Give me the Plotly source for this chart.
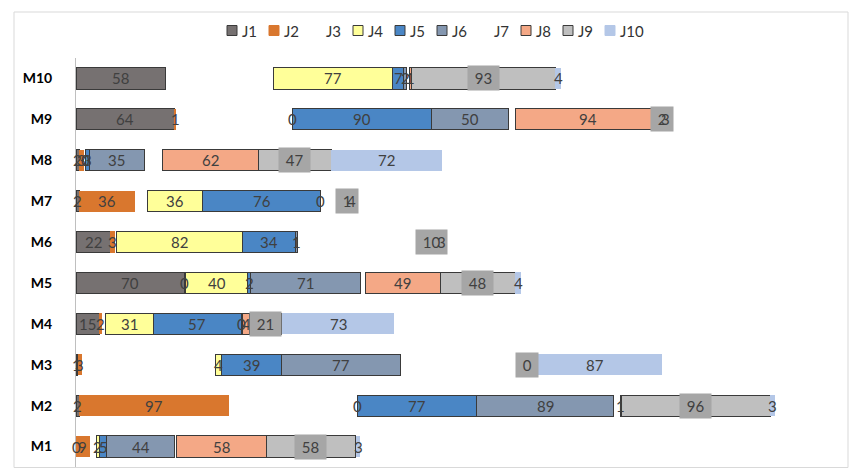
import plotly.graph_objects as go

machines = ["M1", "M2", "M3", "M4", "M5", "M6", "M7", "M8", "M9", "M10"]
jobs = ["J1", "J2", "J3", "J4", "J5", "J6", "J7", "J8", "J9", "J10"]

J1 = [0, 2, 1, 15, 70, 22, 2, 2, 64, 58]
J2 = [9, 97, 3, 2, 0, 3, 36, 3, 1, None]
J3 = [4, 83, 86, 2, 1, 1, 8, 1, 75, 70]
J4 = [2, 0, 4, 31, 40, 82, 36, 0, 0, 77]
J5 = [5, 77, 39, 57, 2, 34, 76, 3, 90, 7]
J6 = [44, 89, 77, 0, 71, 1, 0, 35, 50, 2]
J7 = [1, 4, 82, 1, 3, 82, 17, 12, 4, 2]
J8 = [58, 1, 0, 4, 49, 0, 0, 62, 94, 1]
J9 = [58, 96, 0, 21, 48, 10, 1, 47, 2, 93]
J10 = [3, 3, 87, 73, 4, 3, 4, 72, 3, 4]

series = [J1, J2, J3, J4, J5, J6, J7, J8, J9, J10]

fills = ["#767171", "#D9772E", "rgba(0,0,0,0)", "#FFFF99", "#4A86C5",
         "#8497B0", "rgba(0,0,0,0)", "#F4A886", "#BFBFBF", "#B4C7E7"]
outlined = [True, False, False, True, True, True, False, True, True, False]
labelled = [True, True, False, True, True, True, False, True, True, True]

FONT = "Lato"
LABEL_COLOR = "#404040"
EDGE = "#3A3A3A"

# figure geometry (the page adds an 8px body margin)
FIG_W, FIG_H = 853, 468
ML, MR, MT, MB = 68, 26, 50, 9
PLOT_W = FIG_W - ML - MR
PLOT_H = FIG_H - MT - MB


def px_x(px):  # page pixel -> paper x
    return (px - 8 - ML) / PLOT_W


def px_y(py):  # page pixel -> paper y
    return (FIG_H - MB - (py - 8)) / PLOT_H


fig = go.Figure()

for name, vals, col, ol in zip(jobs, series, fills, outlined):
    fig.add_trace(go.Bar(
        name=name, y=machines, x=vals, orientation="h",
        marker=dict(color=col,
                    line=dict(color=EDGE if ol else "rgba(0,0,0,0)",
                              width=1 if ol else 0)),
        width=0.52, hoverinfo="skip", showlegend=False,
    ))

# data labels at segment centres
starts = [0.0] * len(machines)
annotations = []
for k, (name, vals) in enumerate(zip(jobs, series)):
    for i, v in enumerate(vals):
        val = 0 if v is None else v
        c = starts[i] + val / 2.0
        if v is not None and labelled[k]:
            if name == "J9":
                annotations.append(dict(
                    x=c, y=machines[i], xref="x", yref="y",
                    text=" %d " % v, showarrow=False,
                    bgcolor="#A6A6A6", borderpad=3,
                    font=dict(family=FONT, size=15, color=LABEL_COLOR)))
            else:
                annotations.append(dict(
                    x=c, y=machines[i], xref="x", yref="y",
                    text=str(v), showarrow=False, borderpad=0,
                    font=dict(family=FONT, size=15, color=LABEL_COLOR)))
        starts[i] += val

# legend (drawn by hand to match the compact spacing)
LEG_LEFT, LEG_PITCH, LEG_YC = 227, 42, 30.5
for k, name in enumerate(jobs):
    left = LEG_LEFT + LEG_PITCH * k
    if fills[k] != "rgba(0,0,0,0)":
        fig.add_shape(type="rect", xref="paper", yref="paper",
                      x0=px_x(left), x1=px_x(left + 10),
                      y0=px_y(LEG_YC + 5), y1=px_y(LEG_YC - 5),
                      fillcolor=fills[k],
                      line=dict(color=EDGE if outlined[k] else fills[k], width=1))
    annotations.append(dict(
        x=px_x(left + 13), y=px_y(LEG_YC), xref="paper", yref="paper",
        xanchor="left", yanchor="middle", text=name, showarrow=False,
        font=dict(family=FONT, size=15, color="#333333")))

# outer chart border
fig.add_shape(type="rect", xref="paper", yref="paper",
              x0=px_x(14), x1=px_x(848), y0=px_y(467.5), y1=px_y(12),
              line=dict(color="#D9D9D9", width=1), fillcolor="rgba(0,0,0,0)",
              layer="above")

fig.update_layout(
    width=FIG_W, height=FIG_H,
    margin=dict(l=ML, r=MR, t=MT, b=MB, autoexpand=False),
    paper_bgcolor="white", plot_bgcolor="white",
    barmode="stack", bargap=0.48,
    showlegend=False,
    annotations=annotations,
    font=dict(family=FONT),
)
fig.update_xaxes(range=[0, 491], showticklabels=False, showgrid=False,
                 zeroline=False, showline=False)
fig.update_yaxes(type="category", categoryorder="array", categoryarray=machines,
                 range=[-0.5, 9.5], automargin=False,
                 showline=True, linecolor="#BFBFBF", linewidth=1,
                 ticks="", showgrid=False,
                 tickfont=dict(family=FONT, size=14, color="#000000", weight="bold"),
                 ticklabelstandoff=20)

fig.write_html("out.html")
